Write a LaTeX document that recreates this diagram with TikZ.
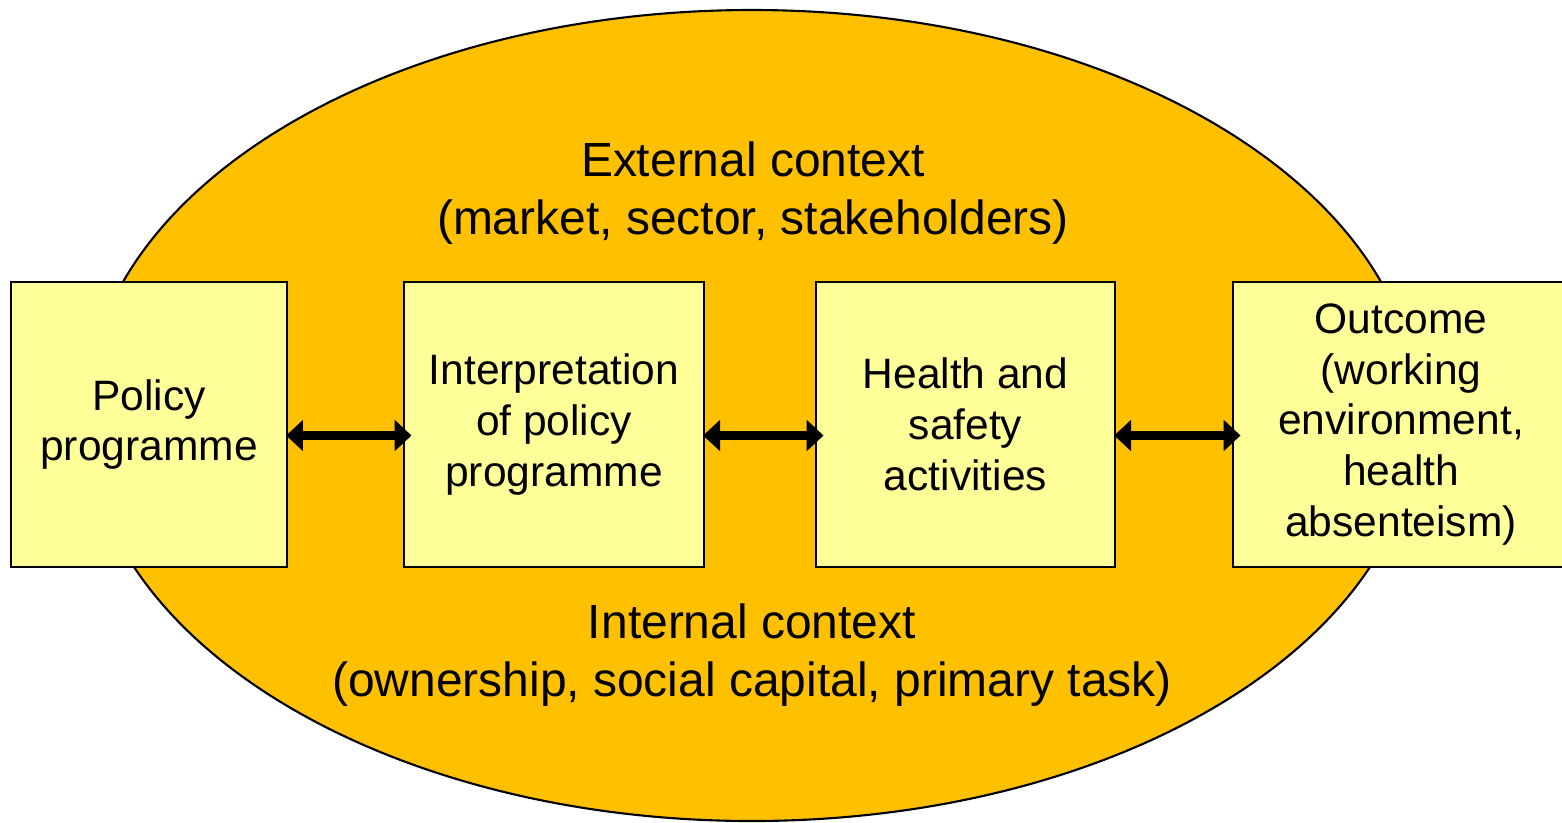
\documentclass[tikz,border=0pt]{standalone}
\usepackage{fontspec}
\setmainfont{Liberation Sans}
\usetikzlibrary{arrows.meta}
\definecolor{ctxorange}{HTML}{FFC000}
\definecolor{boxyellow}{HTML}{FFFF99}
\tikzset{
  box/.style={draw=black, line width=0.5pt, fill=boxyellow, align=center,
    inner sep=0pt, font=\fontsize{12.1}{14.5}\selectfont},
  conn/.style={line width=2.4pt, {Triangle[length=4.8pt,width=8.6pt]}-{Triangle[length=4.8pt,width=8.6pt]},
    shorten <=-0.5pt, shorten >=-2.4pt},
  ctx/.style={align=center, inner sep=0pt, font=\fontsize{13.65}{16.5}\selectfont}
}
\begin{document}
\begin{tikzpicture}
        \useasboundingbox (0,0) rectangle (15.62,-8.22);
        \draw[line width=0.6pt, fill=ctxorange] (7.52,-4.155) ellipse [x radius=6.66, y radius=4.055];
        \node[ctx] (E) at (7.53,-1.93) {External context\\(market, sector, stakeholders)};
        \node[ctx] (N) at (7.52,-6.55) {Internal context\\(ownership, social capital, primary task)};
        \node[box, minimum width=2.76cm, minimum height=2.85cm] (P) at (1.49,-4.245) {Policy\\programme};
        \node[box, minimum width=3.00cm, minimum height=2.85cm] (I) at (5.54,-4.245) {Interpretation\\of policy\\programme};
        \node[box, minimum width=2.99cm, minimum height=2.85cm] (H) at (9.655,-4.245) {Health and\\safety\\activities};
        \node[box, minimum width=3.36cm, minimum height=2.85cm] (O) at (14.01,-4.245) {Outcome\\(working\\environment,\\health\\absenteism)};
        \draw[conn] ([yshift=-0.11cm]P.east) -- ([yshift=-0.11cm]I.west);
        \draw[conn] ([yshift=-0.11cm]I.east) -- ([yshift=-0.11cm]H.west);
        \draw[conn] ([yshift=-0.11cm]H.east) -- ([yshift=-0.11cm]O.west);
\end{tikzpicture}
\end{document}
